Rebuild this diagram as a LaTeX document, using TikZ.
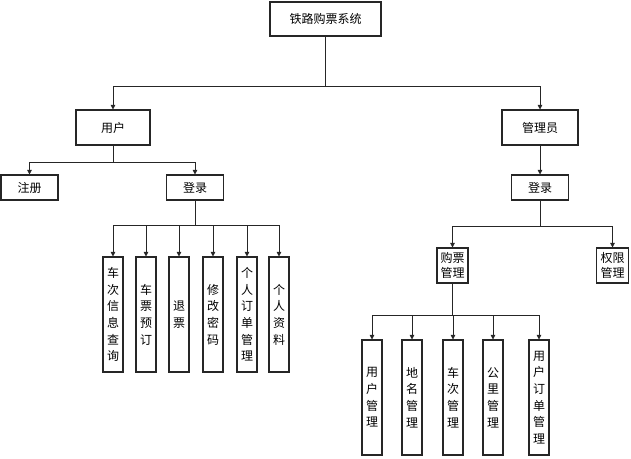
\documentclass[tikz,border=0pt]{standalone}
\usepackage{fontspec}
\newfontfamily\cjk{Noto Sans CJK SC}
\usetikzlibrary{arrows.meta}
\begin{document}
\begin{tikzpicture}[x=0.75pt,y=-0.75pt,
  box/.style={draw=black!85,line width=0.8pt,rectangle,inner sep=0pt,align=center,
    font=\cjk\fontsize{9}{12.5}\selectfont},
  tall/.style={box,minimum width=15pt,minimum height=86.25pt},
  two/.style={box,font=\cjk\fontsize{9}{11.5}\selectfont},
  conn/.style={draw=black!85,line width=0.6pt},
  arr/.style={conn,-{Triangle[length=3.5pt,width=3.5pt]}}]
\useasboundingbox (0,0) rectangle (631,458);
% nodes
\node[box,minimum width=83.25pt,minimum height=25.5pt] (top) at (325.5,19) {铁路购票系统};
\node[box,minimum width=55.5pt,minimum height=26.25pt] (user) at (113,127.5) {用户};
\node[box,minimum width=57pt,minimum height=26.25pt] (admin) at (540,127.5) {管理员};
\node[box,minimum width=42.75pt,minimum height=18.75pt] (reg) at (29.5,187.5) {注册};
\node[box,minimum width=42.75pt,minimum height=18.75pt] (loginL) at (195,187.5) {登录};
\node[box,minimum width=42.75pt,minimum height=18.75pt] (loginR) at (540,187.5) {登录};
\node[tall] (a1) at (113,314.5) {车\\次\\信\\息\\查\\询};
\node[tall] (a2) at (146,314.5) {车\\票\\预\\订};
\node[tall] (a3) at (179,314.5) {退\\票};
\node[tall] (a4) at (213,314.5) {修\\改\\密\\码};
\node[tall] (a5) at (247,314.5) {个\\人\\订\\单\\管\\理};
\node[tall] (a6) at (279,314.5) {个\\人\\资\\料};
\node[two,minimum width=23.25pt,minimum height=26.25pt] (gp) at (452.5,265.5) {购票\\管理};
\node[two,minimum width=24pt,minimum height=26.25pt] (qx) at (612.5,265.5) {权限\\管理};
\node[tall] (b1) at (372,397.5) {用\\户\\管\\理};
\node[tall] (b2) at (412,397.5) {地\\名\\管\\理};
\node[tall] (b3) at (453,397.5) {车\\次\\管\\理};
\node[tall] (b4) at (493,397.5) {公\\里\\管\\理};
\node[tall] (b5) at (539,397.5) {用\\户\\订\\单\\管\\理};
% junctions
\coordinate (j1) at (325.5,86);
\coordinate (j2) at (113,162);
\coordinate (j3) at (195,225);
\coordinate (j4) at (540,226);
\coordinate (j5) at (452.5,315);
% connectors
\draw[conn] (top) -- (j1);
\draw[arr] (j1) -| (user);
\draw[arr] (j1) -| (admin);
\draw[conn] (user) -- (j2);
\draw[arr] (j2) -| (reg);
\draw[arr] (j2) -| (loginL);
\draw[arr] (admin) -- (loginR);
\draw[conn] (loginL) -- (j3);
\foreach \n in {a1,a2,a3,a4,a5,a6} \draw[arr] (j3) -| (\n);
\draw[conn] (loginR) -- (j4);
\draw[arr] (j4) -| (gp);
\draw[arr] (j4) -| (qx);
\draw[conn] (gp) -- (j5);
\foreach \n in {b1,b2,b3,b4,b5} \draw[arr] (j5) -| (\n);
\end{tikzpicture}
\end{document}
